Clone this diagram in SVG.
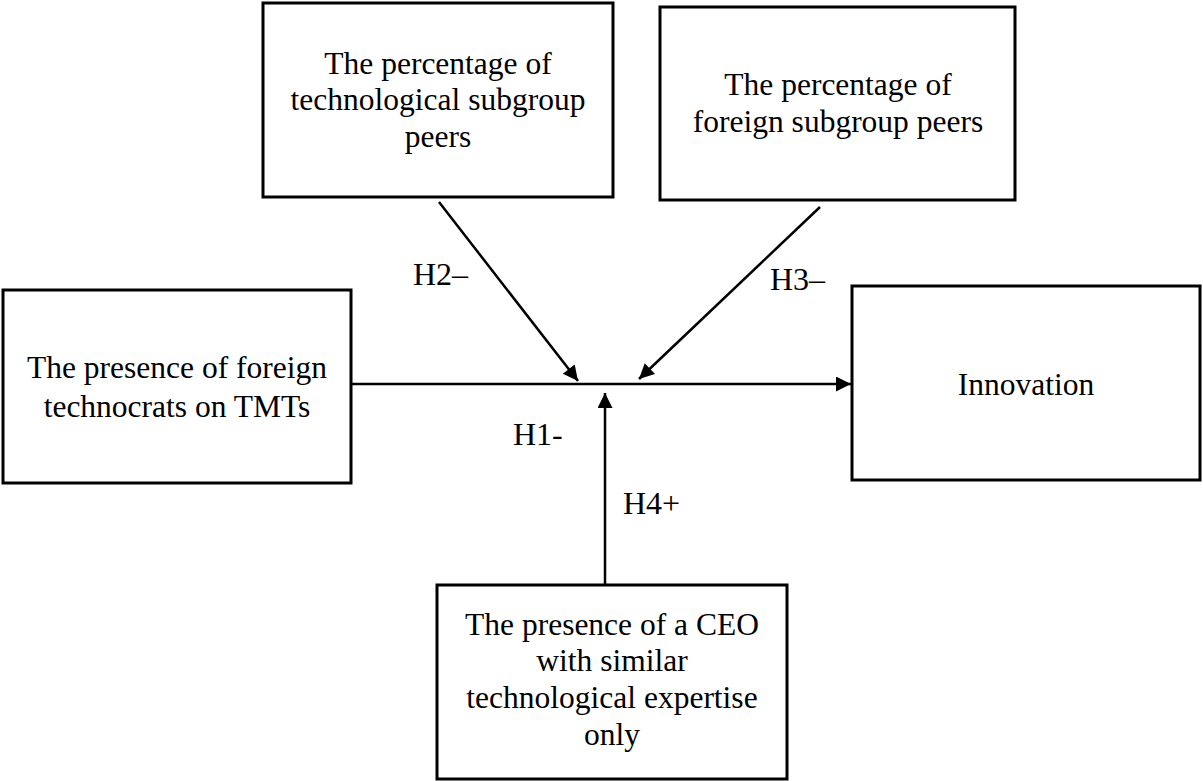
<svg xmlns="http://www.w3.org/2000/svg" width="1203" height="781" viewBox="0 0 1203 781">
<style>
.box{fill:#fff;stroke:#000;stroke-width:3}
.t{font-family:"Liberation Serif","Times New Roman",serif;font-size:31.5px;fill:#000;text-anchor:middle}
.lbl{font-family:"Liberation Serif","Times New Roman",serif;font-size:32px;fill:#000}
.c{stroke:#000;stroke-width:2.5;fill:none}
</style>
<defs>
<marker id="ah" viewBox="0 0 10 10" refX="10" refY="5" markerWidth="7.5" markerHeight="6" markerUnits="strokeWidth" orient="auto">
<path d="M0,0 L10,5 L0,10 Z" fill="#000"/>
</marker>
</defs>
<rect width="1203" height="781" fill="#fff"/>
<g id="connectors">
<line class="c" x1="351" y1="384" x2="851" y2="384" marker-end="url(#ah)"/>
<line class="c" x1="439" y1="202" x2="578" y2="381" marker-end="url(#ah)"/>
<line class="c" x1="820" y1="207" x2="639" y2="379" marker-end="url(#ah)"/>
<line class="c" x1="605" y1="585" x2="605" y2="393" marker-end="url(#ah)"/>
<text class="lbl" x="413" y="285">H2–</text>
<text class="lbl" x="770" y="290">H3–</text>
<text class="lbl" x="513" y="445">H1-</text>
<text class="lbl" x="623" y="514">H4+</text>
</g>
<g id="node-tech">
<rect class="box" x="263" y="3" width="350" height="194"/>
<text class="t" x="438" y="74">The percentage of</text>
<text class="t" x="438" y="110">technological subgroup</text>
<text class="t" x="438" y="147">peers</text>
</g>
<g id="node-foreign">
<rect class="box" x="660" y="7" width="355" height="193"/>
<text class="t" x="838" y="95">The percentage of</text>
<text class="t" x="838" y="132">foreign subgroup peers</text>
</g>
<g id="node-presence">
<rect class="box" x="3" y="290" width="348" height="193"/>
<text class="t" x="177" y="378">The presence of foreign</text>
<text class="t" x="177" y="417">technocrats on TMTs</text>
</g>
<g id="node-innovation">
<rect class="box" x="852" y="286" width="348" height="194"/>
<text class="t" x="1026" y="395">Innovation</text>
</g>
<g id="node-ceo">
<rect class="box" x="437" y="585" width="350" height="194"/>
<text class="t" x="612" y="635">The presence of a CEO</text>
<text class="t" x="612" y="671">with similar</text>
<text class="t" x="612" y="708">technological expertise</text>
<text class="t" x="612" y="745">only</text>
</g>
</svg>
